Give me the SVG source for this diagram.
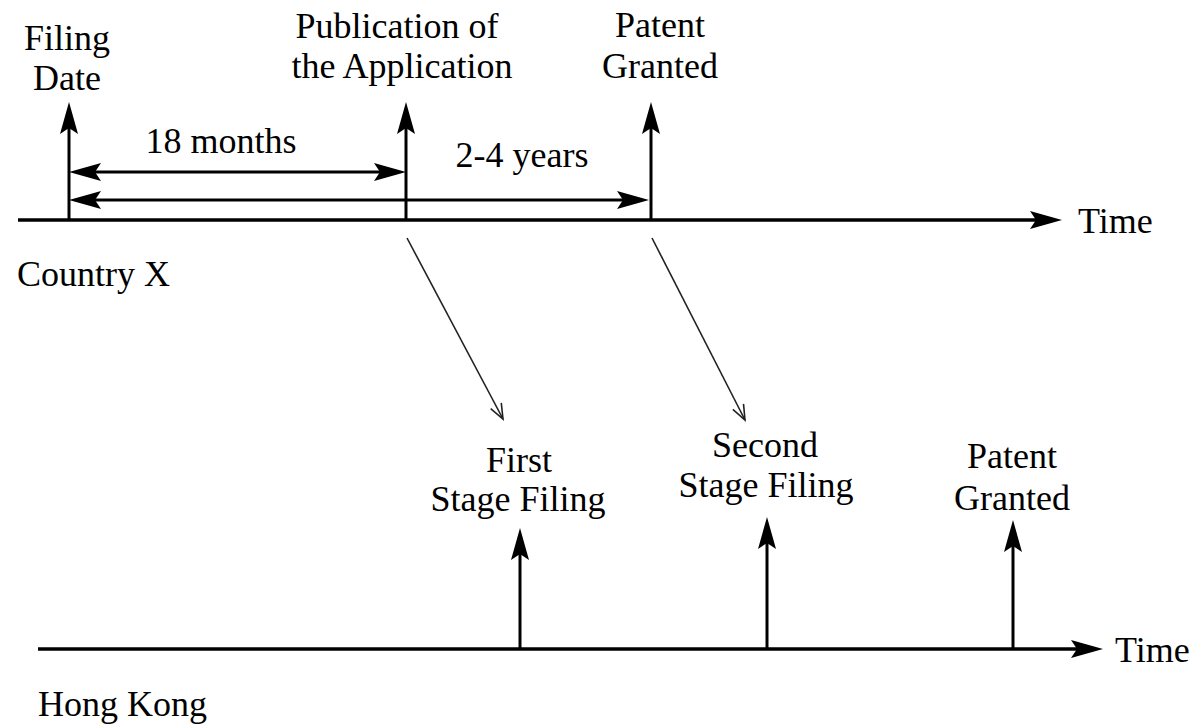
<svg xmlns="http://www.w3.org/2000/svg" width="1198" height="726" viewBox="0 0 1198 726">
<style>
text{font-family:"Liberation Serif","Times New Roman",serif;font-size:36px;fill:#000}
.m{text-anchor:middle}
.ax{stroke:#000;stroke-width:3.5;fill:none}
.vt{stroke:#000;stroke-width:3;fill:none}
.dg{stroke:#222;stroke-width:1.6;fill:none}
</style>
<defs>
<marker id="ah" viewBox="0 0 32 18" refX="22" refY="9" markerWidth="32" markerHeight="18" markerUnits="userSpaceOnUse" orient="auto-start-reverse">
<path d="M0,0 L32,9 L0,18 L6,9 Z" fill="#000"/>
</marker>
<marker id="oh" viewBox="0 0 18 14" refX="16" refY="7" markerWidth="18" markerHeight="14" markerUnits="userSpaceOnUse" orient="auto">
<path d="M1,1 L16,7 L1,13" fill="none" stroke="#222" stroke-width="1.6"/>
</marker>
</defs>
<g id="connectors">
<line class="ax" x1="18" y1="220" x2="1052" y2="220" marker-end="url(#ah)"/>
<line class="vt" x1="69" y1="220" x2="69" y2="112" marker-end="url(#ah)"/>
<line class="vt" x1="406" y1="220" x2="406" y2="112" marker-end="url(#ah)"/>
<line class="vt" x1="651" y1="220" x2="651" y2="112" marker-end="url(#ah)"/>
<line class="vt" x1="79" y1="172" x2="396" y2="172" marker-start="url(#ah)" marker-end="url(#ah)"/>
<line class="vt" x1="79" y1="200" x2="639" y2="200" marker-start="url(#ah)" marker-end="url(#ah)"/>
<line class="ax" x1="38" y1="649" x2="1093" y2="649" marker-end="url(#ah)"/>
<line class="vt" x1="520" y1="649" x2="520" y2="538" marker-end="url(#ah)"/>
<line class="vt" x1="767" y1="649" x2="767" y2="527" marker-end="url(#ah)"/>
<line class="vt" x1="1013" y1="649" x2="1013" y2="530" marker-end="url(#ah)"/>
<line class="dg" x1="407" y1="238" x2="503" y2="419" marker-end="url(#oh)"/>
<line class="dg" x1="652" y1="238" x2="745" y2="420" marker-end="url(#oh)"/>
</g>
<g id="filing-date"><text class="m" x="67" y="50">Filing</text><text class="m" x="67" y="90">Date</text></g>
<g id="publication"><text class="m" x="397" y="38">Publication of</text><text class="m" x="402" y="78">the Application</text></g>
<g id="patent-x"><text class="m" x="660" y="37">Patent</text><text class="m" x="660" y="78">Granted</text></g>
<g id="label-18"><text class="m" x="221" y="153">18 months</text></g>
<g id="label-24"><text class="m" x="522" y="167">2-4 years</text></g>
<g id="time-x"><text x="1078" y="233">Time</text></g>
<g id="country-x"><text x="17" y="286">Country X</text></g>
<g id="first-stage"><text class="m" x="519" y="472">First</text><text class="m" x="518" y="511">Stage Filing</text></g>
<g id="second-stage"><text class="m" x="765" y="457">Second</text><text class="m" x="766" y="497">Stage Filing</text></g>
<g id="patent-hk"><text class="m" x="1012" y="468">Patent</text><text class="m" x="1012" y="510">Granted</text></g>
<g id="time-hk"><text x="1115" y="662">Time</text></g>
<g id="hong-kong"><text x="38" y="716">Hong Kong</text></g>
</svg>
